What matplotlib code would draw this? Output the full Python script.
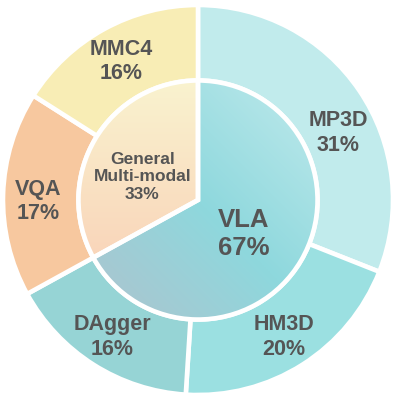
import numpy as np
import matplotlib.pyplot as plt
from matplotlib.colors import LinearSegmentedColormap

plt.rcParams['font.family'] = ['Liberation Sans', 'DejaVu Sans']

# data
outer_labels = ['MP3D', 'HM3D', 'DAgger', 'VQA', 'MMC4']
outer_values = [31, 20, 16, 17, 16]
outer_colors = ['#C1EBEC', '#9BE0E1', '#96D4D5', '#F7C89F', '#F8EDB5']

inner_labels = ['VLA', 'General\nMulti-modal']
inner_values = [67, 33]

txt_color = '#555555'
R_OUT = 1.0
R_IN = 0.613
scale = 195.0  # pixels per unit

fig = plt.figure(figsize=(3.97, 3.98), dpi=100)
ax = fig.add_axes([0, 0, 1, 1])

# outer ring
wo, _ = ax.pie(outer_values, radius=R_OUT, startangle=90, counterclock=False,
               colors=outer_colors,
               wedgeprops=dict(width=R_OUT - R_IN, edgecolor='white', linewidth=3.3))

# inner pie, faces filled by gradients below
wi, _ = ax.pie(inner_values, radius=R_IN, startangle=90, counterclock=False,
               colors=['none', 'none'],
               wedgeprops=dict(edgecolor='white', linewidth=3.3))
for w in wi:
    w.set_zorder(3)

n = 300
xs = np.linspace(-R_IN, R_IN, n)
X, Y = np.meshgrid(xs, xs[::-1])

# VLA: diagonal gradient from top-right to bottom-left
vla_cmap = LinearSegmentedColormap.from_list(
    'vla', [(0, '#C0EAEC'), (0.5, '#8ED8DD'), (1, '#B0C2CD')])
u = (-(X + Y) / (2 * R_IN) + 1) / 2
im1 = ax.imshow(u, cmap=vla_cmap, vmin=0, vmax=1, extent=(-R_IN, R_IN, -R_IN, R_IN),
                zorder=2, interpolation='bilinear')
im1.set_clip_path(wi[0])

# General multi-modal: vertical gradient, yellow to peach
gen_cmap = LinearSegmentedColormap.from_list('gen', ['#FAF3CF', '#F9D5BA'])
v = (R_IN - Y) / (1.5 * R_IN)
im2 = ax.imshow(v, cmap=gen_cmap, vmin=0, vmax=1, extent=(-R_IN, R_IN, -R_IN, R_IN),
                zorder=2, interpolation='bilinear')
im2.set_clip_path(wi[1])

# labels
nudge = {'MP3D': -8, 'VQA': 1.5}
for w, lab, val in zip(wo, outer_labels, outer_values):
    ang = np.deg2rad((w.theta1 + w.theta2) / 2 + nudge.get(lab, 0))
    r = 0.80 if lab == 'MP3D' else 0.82
    ax.text(r * np.cos(ang), r * np.sin(ang) - 0.01, f'{lab}\n{val}%', ha='center', va='center',
            fontsize=15.5, fontweight='bold', color=txt_color, zorder=5)

inner_fs = [18.5, 12.5]
inner_r = [0.29, 0.31]
inner_nudge = [-6, 8]
for w, lab, val, fs, r, nd in zip(wi, inner_labels, inner_values, inner_fs, inner_r, inner_nudge):
    ang = np.deg2rad((w.theta1 + w.theta2) / 2 + nd)
    ax.text(r * np.cos(ang), r * np.sin(ang), f'{lab}\n{val}%', ha='center', va='center',
            fontsize=fs, fontweight='bold', color=txt_color, zorder=5)

ax.set_xlim(-198 / scale, 199 / scale)
ax.set_ylim(-198 / scale, 200 / scale)
ax.set_aspect('equal')
ax.axis('off')

fig.savefig('out.png', dpi=100)
